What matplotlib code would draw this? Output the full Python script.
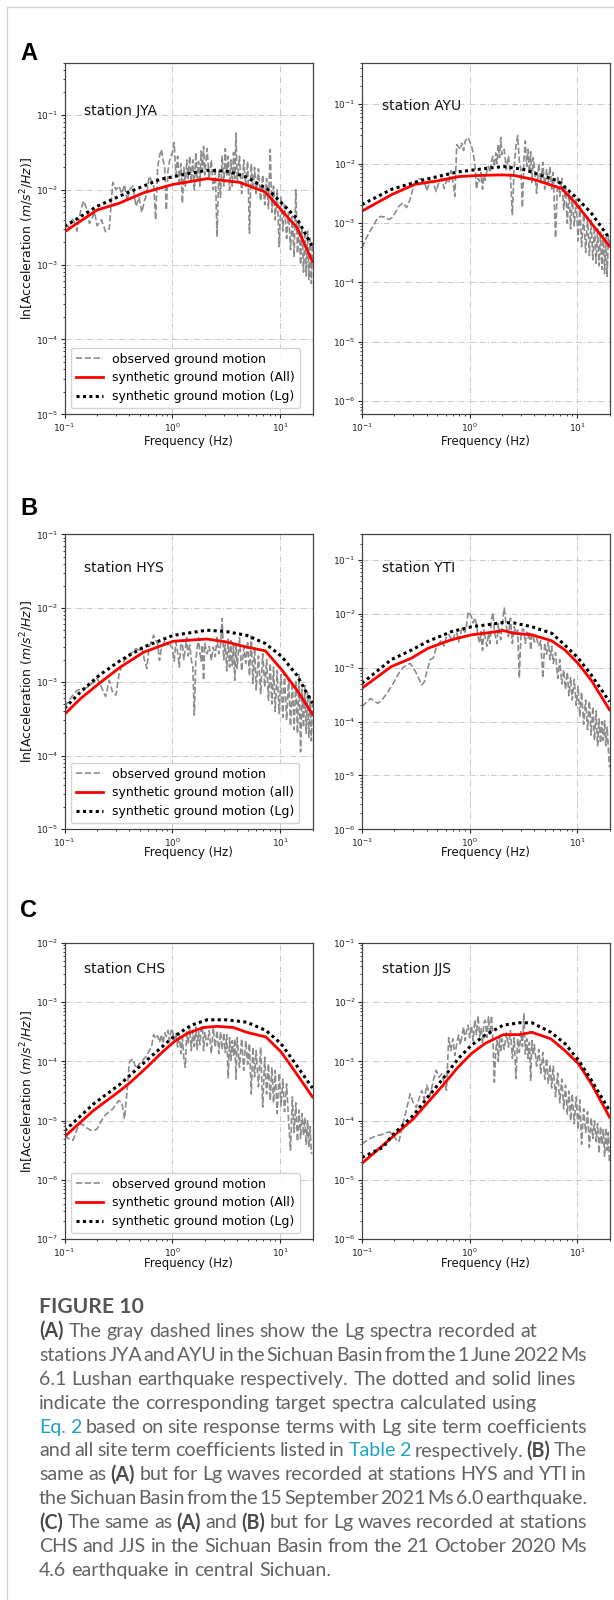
import numpy as np
import matplotlib
matplotlib.use("Agg")
import matplotlib.pyplot as plt
from matplotlib.ticker import LogLocator, NullFormatter
from matplotlib.lines import Line2D

W, H = 614, 1600

# ---------------- data (log10 amplitudes) ----------------
FREQ_OBS = [0.10, 0.11, 0.12, 0.13, 0.14, 0.15, 0.16, 0.17, 0.18, 0.19,
            0.20, 0.22, 0.24, 0.26, 0.28, 0.30, 0.32, 0.34, 0.36, 0.38,
            0.40, 0.43, 0.46, 0.49, 0.52, 0.55, 0.58, 0.61, 0.64, 0.67,
            0.70, 0.73, 0.76, 0.79, 0.82, 0.85, 0.88, 0.91, 0.94, 0.97,
            1.00, 1.04, 1.08, 1.12, 1.16, 1.20, 1.24, 1.28, 1.32, 1.36,
            1.40, 1.45, 1.50, 1.55, 1.60, 1.65, 1.70, 1.75, 1.80, 1.85,
            1.90, 1.95,
            2.0, 2.1, 2.2, 2.3, 2.4, 2.5, 2.6, 2.7, 2.8, 2.9,
            3.0, 3.1, 3.2, 3.3, 3.4, 3.5, 3.6, 3.7, 3.8, 3.9,
            4.0, 4.2, 4.4, 4.6, 4.8, 5.0, 5.2, 5.4, 5.6, 5.8, 6.0,
            6.3, 6.6, 6.9, 7.2, 7.5, 7.8, 8.1, 8.4, 8.7, 9.0,
            9.4, 9.8, 10.2, 10.6, 11.0,
            11.5, 12.0, 12.5, 13.0, 13.5, 14.0, 14.5, 15.0, 15.5, 16.0,
            16.5, 17.0, 17.5, 18.0, 18.5, 19.0, 19.5, 20.0]

JYA_OBS = [-2.45, -2.50, -2.38, -2.55, -2.30, -2.15, -2.25, -2.45, -2.38, -2.30,
           -2.48, -2.40, -2.56, -2.52, -1.90, -2.00, -1.95, -2.05, -1.93, -2.15,
           -2.00, -1.95, -2.22, -2.10, -2.30, -2.15, -2.05, -1.82, -1.88, -1.92,
           -2.40, -1.70, -1.55, -1.46, -1.60, -1.70, -2.27, -1.75, -1.62, -1.55,
           -1.50, -1.37, -1.80, -1.55, -1.90, -1.65, -2.18, -1.70, -1.95, -1.60,
           -1.85, -1.55, -1.90, -1.60, -2.00, -1.50, -1.88, -1.62, -1.95, -1.48,
           -1.75, -1.42,
           -1.80, -1.45, -1.85, -1.60, -2.00, -1.70, -2.62, -1.75, -2.10, -1.55,
           -1.95, -1.45, -1.80, -1.55, -2.00, -1.60, -1.95, -1.50, -1.85, -1.24,
           -1.90, -1.55, -2.05, -1.60, -1.95, -1.62, -2.58, -1.65, -2.00, -1.70, -2.05,
           -1.72, -2.15, -1.80, -2.20, -1.85, -2.25, -1.46, -2.30, -1.95, -2.40,
           -2.00, -2.76, -2.10, -2.55, -2.20,
           -2.65, -2.30, -2.80, -2.35, -2.90, -2.00, -2.85, -2.45, -3.00, -2.50,
           -3.10, -2.60, -3.15, -2.55, -3.20, -2.65, -3.25, -2.70]

AYU_OBS = [-3.42, -3.25, -3.12, -3.02, -2.91, -2.89, -2.90, -2.93, -2.94, -2.91,
           -2.85, -2.72, -2.66, -2.74, -2.60, -2.40, -2.28, -2.26, -2.25, -2.30,
           -2.46, -2.28, -2.33, -2.47, -2.30, -2.25, -2.42, -2.28, -2.33, -2.12,
           -2.30, -2.55, -1.68, -1.72, -1.76, -1.66, -1.78, -1.62, -1.59, -1.56,
           -1.62, -1.70, -1.82, -2.00, -2.43, -2.25, -2.30, -2.15, -2.43, -2.20,
           -2.28, -2.12, -2.05, -2.15, -1.95, -1.88, -2.05, -1.82, -2.00, -1.68,
           -1.90, -1.56,
           -1.85, -1.76, -2.10, -1.87, -2.21, -2.86, -2.05, -1.70, -1.53, -1.95,
           -2.10, -2.74, -1.95, -1.62, -2.05, -1.76, -2.15, -1.80, -2.32, -1.90,
           -2.05, -2.50, -2.00, -2.32, -1.98, -2.43, -2.10, -2.32, -2.05, -2.43, -2.15,
           -3.25, -2.21, -2.55, -2.25, -2.77, -2.38, -3.00, -2.45, -3.10, -2.55,
           -3.05, -2.60, -3.30, -2.70, -3.40,
           -2.85, -3.50, -2.90, -3.55, -2.95, -3.62, -3.05, -3.68, -3.10, -3.72,
           -3.15, -3.78, -3.20, -3.85, -3.25, -3.90, -3.22, -3.35]

HYS_OBS = [-3.34, -3.25, -3.18, -3.12, -3.10, -3.09, -3.08, -3.05, -3.02, -3.00,
           -2.95, -3.07, -3.20, -2.98, -3.15, -3.18, -2.90, -2.78, -2.70, -2.68,
           -2.62, -2.60, -2.55, -2.57, -2.53, -2.70, -2.82, -2.52, -2.45, -2.37,
           -2.44, -2.48, -2.71, -2.55, -2.50, -2.45, -2.44, -2.50, -2.46, -2.52,
           -2.53, -2.72, -2.46, -2.60, -2.80, -2.50, -2.48, -2.70, -2.55, -2.40,
           -2.65, -2.50, -2.70, -2.80, -3.45, -2.71, -2.55, -2.40, -2.60, -2.72,
           -2.50, -2.98,
           -2.48, -2.62, -2.52, -2.71, -2.53, -2.66, -2.40, -2.62, -2.50, -2.14,
           -2.70, -2.45, -2.85, -2.42, -2.80, -2.44, -2.78, -2.50, -2.98, -2.48,
           -2.82, -2.40, -2.85, -2.53, -2.75, -2.45, -2.92, -2.38, -3.02, -2.53, -3.11,
           -2.65, -3.16, -2.62, -3.07, -2.70, -3.25, -2.75, -3.30, -2.80, -3.40,
           -2.85, -3.43, -2.90, -3.48, -2.88,
           -3.52, -2.95, -3.60, -3.00, -3.65, -2.98, -3.70, -2.90, -3.95, -3.10,
           -3.62, -3.05, -3.70, -3.15, -3.75, -3.20, -3.80, -3.25]

YTI_OBS = [-3.72, -3.64, -3.57, -3.62, -3.66, -3.62, -3.55, -3.48, -3.40, -3.33,
           -3.25, -3.10, -3.00, -2.95, -2.92, -3.00, -3.10, -3.22, -3.32, -3.26,
           -3.08, -2.85, -2.82, -2.62, -2.55, -2.48, -2.60, -2.42, -2.38, -2.45,
           -2.50, -2.36, -2.35, -2.52, -2.40, -2.25, -2.30, -2.34, -2.20, -1.96,
           -2.00, -2.05, -2.17, -2.07, -2.20, -2.42, -2.55, -2.33, -2.68, -2.30,
           -2.45, -2.60, -2.35, -2.55, -2.10, -1.98, -2.30, -2.45, -2.55, -2.18,
           -2.35, -2.48,
           -2.25, -1.89, -2.24, -2.42, -2.08, -2.55, -2.24, -2.36, -2.30, -3.19,
           -2.42, -2.28, -2.30, -2.55, -2.34, -2.45, -2.33, -2.67, -2.38, -2.40,
           -2.52, -2.45, -2.60, -2.50, -3.19, -2.54, -2.75, -2.52, -2.85, -2.60, -2.92,
           -2.72, -3.20, -2.85, -3.30, -3.04, -3.40, -3.08, -3.52, -3.18, -3.60,
           -3.22, -3.70, -3.35, -3.90, -3.45,
           -4.05, -3.60, -4.15, -3.62, -4.25, -3.72, -4.35, -3.80, -4.45, -3.95,
           -4.40, -4.00, -4.35, -3.98, -4.45, -4.10, -4.50, -4.85]

CHS_OBS = [-5.25, -5.31, -5.33, -5.15, -5.05, -5.08, -5.12, -5.15, -5.17, -5.16,
           -5.14, -5.00, -4.90, -4.85, -4.80, -4.72, -4.66, -4.70, -4.97, -4.50,
           -4.00, -3.96, -4.12, -4.05, -4.00, -3.95, -3.90, -3.82, -3.76, -3.55,
           -3.62, -3.57, -3.68, -3.55, -3.70, -3.52, -3.58, -3.48, -3.65, -3.50,
           -3.45, -3.65, -3.53, -3.76, -3.53, -3.87, -3.60, -3.95, -4.10, -3.50,
           -3.70, -3.45, -3.82, -3.48, -3.75, -3.42, -3.80, -3.50, -3.72, -3.48,
           -3.40, -3.82,
           -3.50, -3.74, -3.48, -3.87, -3.43, -3.76, -3.48, -3.87, -3.50, -3.80,
           -3.52, -3.85, -3.55, -4.28, -3.60, -3.98, -3.65, -3.90, -3.62, -4.30,
           -3.60, -4.10, -3.62, -4.15, -3.65, -4.05, -3.70, -4.55, -3.76, -4.26, -3.82,
           -4.43, -3.76, -4.77, -3.93, -4.55, -4.04, -4.66, -4.10, -4.70, -4.15,
           -4.88, -4.20, -4.75, -4.30, -4.85,
           -4.38, -5.00, -5.50, -4.60, -5.20, -4.70, -5.35, -4.82, -5.30, -4.88,
           -5.25, -4.95, -5.40, -5.00, -5.45, -5.10, -5.55, -5.55]

JJS_OBS = [-4.39, -4.34, -4.30, -4.27, -4.25, -4.24, -4.22, -4.20, -4.19, -4.22,
           -4.28, -4.36, -4.05, -3.80, -3.55, -3.70, -3.78, -3.62, -3.49, -3.64,
           -3.40, -3.58, -3.32, -3.15, -3.27, -3.21, -3.35, -3.49, -2.60, -2.82,
           -2.62, -2.90, -2.70, -2.56, -2.72, -2.58, -2.42, -2.65, -2.48, -2.39,
           -2.60, -2.40, -2.65, -2.30, -2.55, -2.23, -2.58, -2.45, -2.70, -2.35,
           -2.31, -2.60, -2.25, -2.55, -2.23, -2.65, -3.35, -2.82, -2.65, -3.00,
           -2.60, -2.85,
           -2.62, -2.80, -2.52, -2.76, -2.48, -2.95, -2.60, -3.29, -2.62, -2.85,
           -2.50, -2.75, -2.20, -2.88, -2.62, -2.95, -2.68, -3.32, -2.65, -2.90,
           -2.72, -3.08, -2.80, -3.20, -2.85, -3.30, -2.95, -3.37, -3.05, -3.45, -3.08,
           -3.60, -3.20, -3.70, -3.30, -3.80, -3.40, -3.90, -3.50, -4.00, -3.55,
           -4.05, -3.60, -4.15, -3.65, -4.40,
           -3.80, -4.20, -3.85, -4.45, -3.95, -4.30, -4.00, -4.35, -4.05, -4.55,
           -4.10, -4.40, -4.15, -4.60, -4.12, -4.50, -4.20, -4.70]

# synthetic spectra (All site terms: red; Lg site terms: black dotted)
JYA_ALL_F = [0.1, 0.2, 0.32, 0.54, 1.0, 1.6, 2.1, 4.2, 7.3, 10.4, 14.3, 20]
JYA_ALL = [-2.56, -2.27, -2.18, -2.04, -1.93, -1.88, -1.85, -1.90, -2.03, -2.28, -2.50, -2.96]
JYA_LG_F = [0.1, 0.14, 0.2, 0.38, 0.77, 1.57, 2.1, 3.2, 4.9, 7.8, 10.4, 14.3, 20]
JYA_LG = [-2.49, -2.36, -2.22, -2.04, -1.86, -1.77, -1.74, -1.75, -1.83, -2.00, -2.18, -2.38, -2.76]

AYU_ALL_F = [0.1, 0.19, 0.31, 0.51, 0.78, 1.2, 2.0, 2.6, 4.0, 7.2, 9.6, 13.5, 20]
AYU_ALL = [-2.80, -2.52, -2.35, -2.29, -2.22, -2.20, -2.19, -2.20, -2.27, -2.42, -2.66, -3.00, -3.39]
AYU_LG_F = [0.1, 0.19, 0.38, 0.78, 1.6, 2.1, 3.2, 6.6, 10.2, 13.5, 20]
AYU_LG = [-2.69, -2.43, -2.27, -2.14, -2.07, -2.05, -2.10, -2.29, -2.60, -2.83, -3.26]

HYS_ALL_F = [0.1, 0.14, 0.21, 0.33, 0.54, 1.02, 2.1, 3.2, 4.9, 7.3, 10.4, 14.3, 20]
HYS_ALL = [-3.44, -3.23, -3.02, -2.80, -2.60, -2.45, -2.42, -2.46, -2.53, -2.58, -2.84, -3.11, -3.44]
HYS_LG_F = [0.1, 0.14, 0.21, 0.33, 0.54, 1.02, 2.1, 3.2, 4.9, 7.3, 10.4, 14.3, 20]
HYS_LG = [-3.36, -3.14, -2.91, -2.71, -2.53, -2.37, -2.30, -2.32, -2.37, -2.48, -2.66, -2.91, -3.29]

YTI_ALL_F = [0.1, 0.187, 0.29, 0.41, 0.68, 1.04, 1.5, 2.05, 2.6, 3.8, 5.8, 7.7, 10.2, 13.5, 20]
YTI_ALL = [-3.38, -2.98, -2.82, -2.64, -2.48, -2.39, -2.35, -2.31, -2.36, -2.39, -2.50, -2.67, -2.92, -3.23, -3.78]
YTI_LG_F = [0.1, 0.187, 0.29, 0.41, 0.68, 1.04, 1.5, 2.05, 2.6, 3.8, 5.8, 7.7, 10.2, 13.5, 20]
YTI_LG = [-3.29, -2.85, -2.67, -2.51, -2.33, -2.24, -2.20, -2.16, -2.17, -2.24, -2.36, -2.58, -2.82, -3.13, -3.63]

CHS_ALL_F = [0.1, 0.185, 0.33, 0.41, 0.58, 0.78, 1.02, 1.37, 1.95, 2.6, 3.7, 4.9, 7.4, 10.2, 13.5, 20]
CHS_ALL = [-5.27, -4.83, -4.49, -4.35, -4.10, -3.87, -3.68, -3.53, -3.43, -3.41, -3.43, -3.51, -3.59, -3.84, -4.15, -4.60]
CHS_LG_F = [0.1, 0.185, 0.33, 0.58, 1.02, 1.5, 2.1, 3.2, 4.9, 7.4, 10.2, 13.5, 20]
CHS_LG = [-5.17, -4.72, -4.38, -3.98, -3.59, -3.39, -3.30, -3.30, -3.34, -3.48, -3.70, -4.01, -4.45]

JJS_ALL_F = [0.1, 0.3, 0.41, 0.55, 0.78, 1.04, 1.39, 2.06, 2.9, 3.8, 5.7, 7.7, 10.3, 13.6, 20]
JJS_ALL = [-4.72, -3.97, -3.69, -3.43, -3.10, -2.87, -2.70, -2.55, -2.55, -2.51, -2.62, -2.82, -3.04, -3.38, -3.94]
JJS_LG_F = [0.1, 0.157, 0.19, 0.3, 0.41, 0.55, 0.78, 1.04, 1.39, 2.06, 2.9, 3.8, 5.7, 7.7, 10.3, 13.6, 20]
JJS_LG = [-4.62, -4.45, -4.25, -3.91, -3.60, -3.32, -2.96, -2.73, -2.56, -2.39, -2.35, -2.35, -2.51, -2.70, -2.98, -3.32, -3.83]

STATIONS = ["JYA", "AYU", "HYS", "YTI", "CHS", "JJS"]
OBS = [JYA_OBS, AYU_OBS, HYS_OBS, YTI_OBS, CHS_OBS, JJS_OBS]
ALL_F = [JYA_ALL_F, AYU_ALL_F, HYS_ALL_F, YTI_ALL_F, CHS_ALL_F, JJS_ALL_F]
ALL_V = [JYA_ALL, AYU_ALL, HYS_ALL, YTI_ALL, CHS_ALL, JJS_ALL]
LG_F = [JYA_LG_F, AYU_LG_F, HYS_LG_F, YTI_LG_F, CHS_LG_F, JJS_LG_F]
LG_V = [JYA_LG, AYU_LG, HYS_LG, YTI_LG, CHS_LG, JJS_LG]
YLIMS = [(1e-5, 0.5), (6e-7, 0.5), (1e-5, 1e-1), (1e-6, 0.3), (1e-7, 1e-2), (1e-6, 1e-1)]
XLIM = (0.1, 20)
LEG_LABELS = [["observed ground motion", "synthetic ground motion (All)", "synthetic ground motion (Lg)"],
              ["observed ground motion", "synthetic ground motion (all)", "synthetic ground motion (Lg)"],
              ["observed ground motion", "synthetic ground motion (All)", "synthetic ground motion (Lg)"]]
PANEL_LETTERS = ["A", "B", "C"]

# ---------------- layout (pixels from top-left) ----------------
COL_X = [(64.6, 312.5), (362.0, 609.5)]
ROW_Y = [(62.7, 414.3), (534.3, 829.3), (942.7, 1239.3)]
STATION_Y = [0.863, 0.878, 0.885, 0.887, 0.911, 0.911]
LETTER_BASE = [60, 515, 917]
XLABEL_Y = [442, 853, 1263]

fig = plt.figure(figsize=(W / 100, H / 100), dpi=100)
fig.patch.set_facecolor("white")


def fx(x):
    return x / W


def fy(y):
    return 1 - y / H


freq = np.array(FREQ_OBS)
for i, st in enumerate(STATIONS):
    r, c = divmod(i, 2)
    x0, x1 = COL_X[c]
    y0, y1 = ROW_Y[r]
    ax = fig.add_axes([fx(x0), fy(y1), (x1 - x0) / W, (y1 - y0) / H])
    l1, = ax.plot(freq, 10 ** np.array(OBS[i]), color="#8c8c8c", lw=1.2, ls="--")
    l2, = ax.plot(ALL_F[i], 10 ** np.array(ALL_V[i]), color="#ff0000", lw=2.0)
    l3, = ax.plot(LG_F[i], 10 ** np.array(LG_V[i]), color="black", lw=2.2, ls=(0, (1, 1.1)))
    ax.set_xscale("log")
    ax.set_yscale("log")
    ax.set_xlim(*XLIM)
    ax.set_ylim(*YLIMS[i])
    ax.xaxis.set_major_locator(LogLocator(base=10, numticks=20))
    ax.yaxis.set_major_locator(LogLocator(base=10, numticks=20))
    ax.xaxis.set_minor_locator(LogLocator(base=10, subs=np.arange(2, 10), numticks=20))
    ax.yaxis.set_minor_locator(LogLocator(base=10, subs=np.arange(2, 10), numticks=20))
    ax.xaxis.set_minor_formatter(NullFormatter())
    ax.yaxis.set_minor_formatter(NullFormatter())
    ax.grid(True, which="major", color="#c8c8c8", lw=0.7, ls=(0, (6, 2, 1, 2)))
    ax.tick_params(which="major", length=3, width=0.8, labelsize=6.5, colors="#222222")
    ax.tick_params(which="minor", length=1.6, width=0.6, colors="#222222")
    ax.tick_params(axis="x", which="major", pad=2.5)
    ax.tick_params(axis="y", which="major", pad=1.5)
    for sp in ax.spines.values():
        sp.set_color("#444444")
        sp.set_linewidth(0.9)
    ax.text(0.08, STATION_Y[i], "station " + st, transform=ax.transAxes,
            fontsize=10, va="center", ha="left", color="#111111")
    if c == 0:
        ax.legend([l1, l2, l3], LEG_LABELS[r], loc="lower left", fontsize=9,
                  handlelength=2.2, handletextpad=0.7, edgecolor="#cfcfcf",
                  framealpha=0.9, borderpad=0.4, labelspacing=0.45)
        fig.text(fx(27), fy((y0 + y1) / 2), r"ln[Acceleration ($m/s^2/Hz$)]",
                 rotation=90, ha="center", va="center", fontsize=9, color="#111111")
    fig.text(fx((x0 + x1) / 2), fy(XLABEL_Y[r]), "Frequency (Hz)", ha="center",
             va="center", fontsize=8.5, color="#111111")

for r, letter in enumerate(PANEL_LETTERS):
    fig.text(fx(20), fy(LETTER_BASE[r]), letter, fontsize=17, fontweight="bold",
             family="Liberation Sans", va="baseline", ha="left", color="black")

# card border
fig.add_artist(Line2D([fx(7), fx(7)], [0, fy(7.3)], color="#d4d4d4", lw=0.9))
fig.add_artist(Line2D([fx(7), 1], [fy(7.3), fy(7.3)], color="#d4d4d4", lw=0.9))

# ---------------- caption ----------------
CAPTION_LINES = [
    ([("(A)", "b"), (" The gray dashed lines show the Lg spectra recorded at", "n")], False),
    ([("stations JYA and AYU in the Sichuan Basin from the 1 June 2022 Ms", "n")], True),
    ([("6.1 Lushan earthquake respectively. The dotted and solid lines", "n")], False),
    ([("indicate the corresponding target spectra calculated using", "n")], False),
    ([("Eq. 2", "l"), (" based on site response terms with Lg site term coefficients", "n")], True),
    ([("and all site term coefficients listed in ", "n"), ("Table 2", "l"),
      (" respectively. ", "n"), ("(B)", "b"), (" The", "n")], True),
    ([("same as ", "n"), ("(A)", "b"), (" but for Lg waves recorded at stations HYS and YTI in", "n")], True),
    ([("the Sichuan Basin from the 15 September 2021 Ms 6.0 earthquake.", "n")], True),
    ([("(C)", "b"), (" The same as ", "n"), ("(A)", "b"), (" and ", "n"), ("(B)", "b"),
      (" but for Lg waves recorded at stations", "n")], True),
    ([("CHS and JJS in the Sichuan Basin from the 21 October 2020 Ms", "n")], True),
    ([("4.6 earthquake in central Sichuan.", "n")], False),
]

renderer = fig.canvas.get_renderer()
CAP_FONT = "Lato"


def style_kw(style, size):
    if style == "b":
        return dict(family=CAP_FONT, fontsize=size, fontweight="bold", color="#4a4a4a")
    if style == "l":
        return dict(family=CAP_FONT, fontsize=size, fontweight="normal", color="#1fa3c6")
    return dict(family=CAP_FONT, fontsize=size, fontweight="normal", color="#626262")


def text_width(s, **kw):
    t = fig.text(0, 0, s, **kw)
    w = t.get_window_extent(renderer).width
    t.remove()
    return w


w_ref = text_width("indicate the corresponding target spectra calculated using",
                   **style_kw("n", 12))
cap_size = 12 * 495.5 / w_ref
space_w = text_width("a a", **style_kw("n", cap_size)) - text_width("aa", **style_kw("n", cap_size))

fig.text(fx(39), fy(1312.7), "FIGURE 10", family=CAP_FONT, fontsize=cap_size * 1.08,
         fontweight="bold", color="#555555", va="baseline", ha="left")

LEFT, RIGHT = 39.0, 587.0
for i, (segs, justify) in enumerate(CAPTION_LINES):
    tokens = []
    for txt, sty in segs:
        for tok in txt.split():
            tokens.append((tok, sty))
    widths = [text_width(tok, **style_kw(sty, cap_size)) for tok, sty in tokens]
    gap = space_w
    if justify and len(tokens) > 1:
        gap = (RIGHT - LEFT - sum(widths)) / (len(tokens) - 1)
    x = LEFT
    yb = 1337.0 + 23.9 * i
    for (tok, sty), w in zip(tokens, widths):
        fig.text(fx(x), fy(yb), tok, va="baseline", ha="left", **style_kw(sty, cap_size))
        x += w + gap

fig.savefig("out.png", dpi=100, facecolor="white")
